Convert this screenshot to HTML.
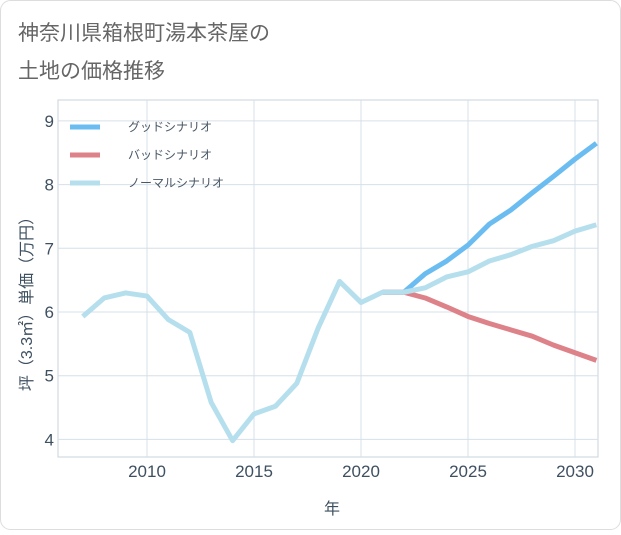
<!DOCTYPE html>
<html><head><meta charset="utf-8"><style>
body{margin:0;background:#fff;}
svg{font-family:"Liberation Sans","Noto Sans CJK JP",sans-serif;}
</style></head><body>
<svg id="c" width="621" height="530">
<rect x="0.5" y="0.5" width="620" height="529" rx="10" fill="#fff" stroke="#ddd"/>
<text x="18" y="40" font-size="21" fill="#666">神奈川県箱根町湯本茶屋の</text>
<text x="18" y="78" font-size="21" fill="#666">土地の価格推移</text>
<rect x="58" y="100" width="540" height="357" fill="none" stroke="#c8d3dc"/>
<g id="grid"></g><g id="series"></g><g id="axes"></g>
<text x="332" y="514" font-size="16" fill="#3e5060" text-anchor="middle">年</text>
<text transform="translate(32,300) rotate(-90)" font-size="16" fill="#3e5060" text-anchor="middle">坪（3.3㎡）単価（万円）</text>
<g>
<line x1="70" y1="127" x2="100" y2="127" stroke="#6bbcf0" stroke-width="5"/>
<text x="128" y="131" font-size="12" fill="#4a5866">グッドシナリオ</text>
<line x1="70" y1="155" x2="100" y2="155" stroke="#de8289" stroke-width="5"/>
<text x="128" y="159" font-size="12" fill="#4a5866">バッドシナリオ</text>
<line x1="70" y1="183" x2="100" y2="183" stroke="#b6dfee" stroke-width="5"/>
<text x="128" y="187" font-size="12" fill="#4a5866">ノーマルシナリオ</text>
</g>
</svg>
<script>
const normalYears=[2007,2008,2009,2010,2011,2012,2013,2014,2015,2016,2017,2018,2019,2020,2021,2022,2023,2024,2025,2026,2027,2028,2029,2030,2031];
const normalValues=[5.93,6.22,6.3,6.25,5.88,5.68,4.58,3.98,4.4,4.52,4.88,5.75,6.48,6.15,6.31,6.31,6.38,6.55,6.63,6.8,6.9,7.03,7.12,7.27,7.37];
const scenarioYears=[2021,2022,2023,2024,2025,2026,2027,2028,2029,2030,2031];
const goodValues=[6.31,6.31,6.6,6.8,7.05,7.38,7.6,7.87,8.13,8.4,8.65];
const badValues=[6.31,6.31,6.22,6.08,5.93,5.82,5.72,5.62,5.48,5.36,5.24];
const xTicks=[2010,2015,2020,2025,2030];
const yTicks=[4,5,6,7,8,9];
const NS="http://www.w3.org/2000/svg";
function x(v){return 147+(v-2010)*21.4;}
function y(v){return 312-(v-6)*63.7;}
function mk(t,a,p){const e=document.createElementNS(NS,t);for(const k in a)e.setAttribute(k,a[k]);p.appendChild(e);return e;}
const grid=document.getElementById('grid'),axes=document.getElementById('axes'),ser=document.getElementById('series');
xTicks.forEach(t=>{
 const l=mk('line',{x1:x(t),x2:x(t),y1:100,y2:457,stroke:'#d6e0e8'},grid);
 
 
 const tx=mk('text',{x:x(t),y:477,'font-size':17,fill:'#3e5060','text-anchor':'middle'},axes);
 tx.textContent=t;
 
 
});
yTicks.forEach(t=>{
 const l=mk('line',{x1:58,x2:598,y1:y(t),y2:y(t),stroke:'#d6e0e8'},grid);
 
 
 const tx=mk('text',{x:54,y:y(t)+6,'font-size':17,fill:'#3e5060','text-anchor':'end'},axes);
 tx.textContent=t;
 
 
});
function line(xs,vs,c,n){
 const p=mk('polyline',{points:xs.map((v,i)=>x(v)+','+y(vs[i])).join(' '),fill:'none',stroke:c,'stroke-width':5,'stroke-linejoin':'round'},ser);
 
 
}
line(scenarioYears,goodValues,'#6bbcf0','good-scenario-line');
line(scenarioYears,badValues,'#de8289','bad-scenario-line');
line(normalYears,normalValues,'#b6dfee','normal-scenario-line');
</script>
</body></html>
